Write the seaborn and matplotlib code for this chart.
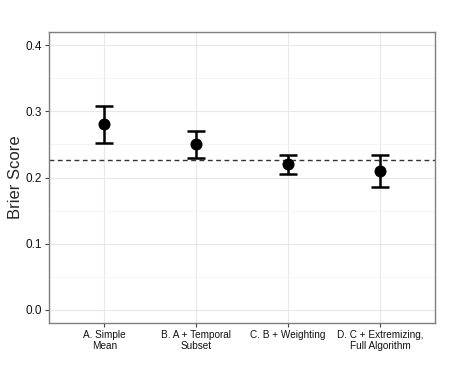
import numpy as np
import matplotlib
matplotlib.use("Agg")
import matplotlib.pyplot as plt
import seaborn as sns
import pandas as pd
from matplotlib.ticker import MultipleLocator

methods = ["A. Simple\nMean", "B. A + Temporal\nSubset", "C. B + Weighting",
           "D. C + Extremizing,\nFull Algorithm"]
brier = [0.281, 0.250, 0.220, 0.210]
lower = [0.252, 0.230, 0.206, 0.186]
upper = [0.308, 0.270, 0.234, 0.234]
baseline = 0.227

df = pd.DataFrame({"method": methods, "brier": brier, "lower": lower, "upper": upper})
df["pos"] = np.arange(len(df))

sns.set_theme(style="whitegrid")
plt.rcParams["font.family"] = ["Liberation Sans", "DejaVu Sans"]

fig = plt.figure(figsize=(4.5, 3.75), dpi=100)
ax = fig.add_axes([0.109, 0.139, 0.858, 0.776])

ax.errorbar(df["pos"], df["brier"],
            yerr=[df["brier"] - df["lower"], df["upper"] - df["brier"]],
            fmt="none", ecolor="black", elinewidth=1.8, capsize=6.5, capthick=1.8, zorder=3)
sns.scatterplot(data=df, x="pos", y="brier", color="black", s=75, edgecolor="black",
                linewidth=0, ax=ax, zorder=4)
ax.axhline(baseline, color="#333333", linestyle=(0, (3.5, 2.5)), linewidth=1.0, zorder=2)

ax.set_xlim(-0.6, 3.6)
ax.set_xticks(df["pos"])
ax.set_xticklabels(methods, fontsize=7.2, color="#111111", linespacing=1.2)
ax.yaxis.set_major_locator(MultipleLocator(0.1))
ax.yaxis.set_minor_locator(MultipleLocator(0.05))
ax.set_ylim(-0.0196, 0.42)
ax.set_yticks([0.0, 0.1, 0.2, 0.3, 0.4])
ax.set_yticklabels(["0.0", "0.1", "0.2", "0.3", "0.4"], fontsize=8.5, color="#111111")

ax.grid(True, which="major", color="#e8e8e8", linewidth=0.8)
ax.grid(True, which="minor", axis="y", color="#f4f4f4", linewidth=0.6)
ax.set_axisbelow(True)
ax.tick_params(axis="both", which="major", length=3, width=0.8, color="#444444",
               direction="out", left=True, bottom=True, pad=2)
ax.tick_params(axis="y", which="minor", length=0)
for s in ax.spines.values():
    s.set_color("#7f7f7f")
    s.set_linewidth(1.0)

ax.set_xlabel("")
ax.set_ylabel("Brier Score", fontsize=12)
ax.yaxis.set_label_coords(-0.068, 0.5)

fig.savefig("out.png", dpi=100)
